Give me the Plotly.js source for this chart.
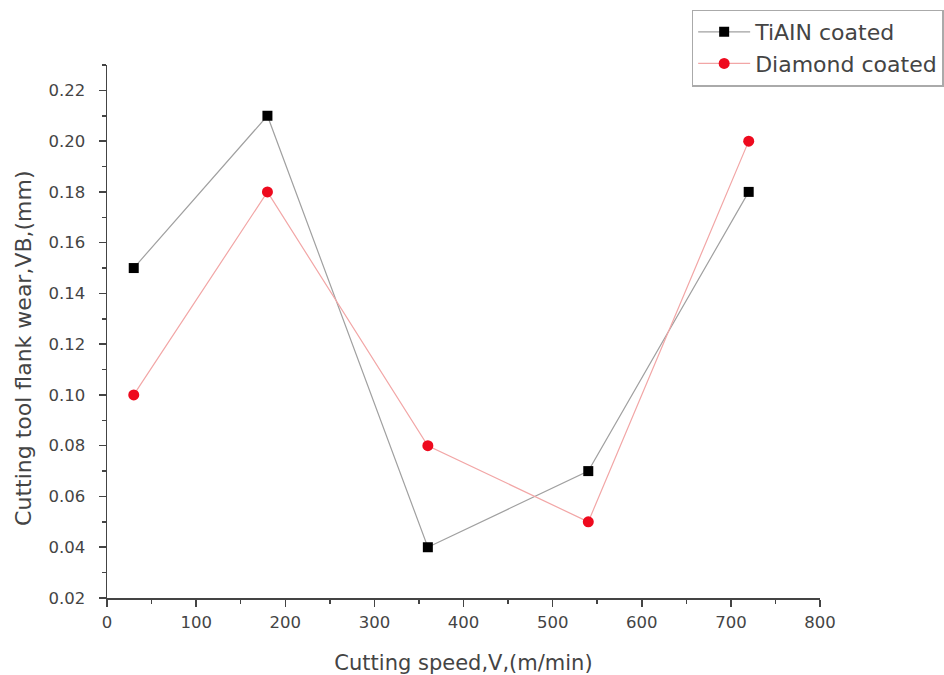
<!DOCTYPE html>
<html>
<head>
<meta charset="utf-8">
<script src="https://cdn.plot.ly/plotly-3.0.1.min.js"></script>
<style>html,body{margin:0;padding:0;background:#fff;}#chart{width:944px;height:675px;}</style>
</head>
<body>
<div id="chart"></div>
<script>
const speeds = [30, 180, 360, 540, 720];
const tialnWear = [0.15, 0.21, 0.04, 0.07, 0.18];
const diamondWear = [0.10, 0.18, 0.08, 0.05, 0.20];
const seriesNames = ["TiAIN coated", "Diamond coated"];
const xTitle = 'Cutting speed,V,(m/min)';
const yTitle = 'Cutting tool flank wear,VB,(mm)';

const traces = [
  {
    x: speeds, y: tialnWear, name: seriesNames[0], type: 'scatter', mode: 'lines+markers',
    line: {color: '#a0a0a0', width: 1.2},
    marker: {symbol: 'square', size: 10, color: '#000000'}
  },
  {
    x: speeds, y: diamondWear, name: seriesNames[1], type: 'scatter', mode: 'lines+markers',
    line: {color: '#f2a6a6', width: 1.2},
    marker: {symbol: 'circle', size: 11, color: '#ee0a1e'}
  }
];

const fam = 'DejaVu Sans, Verdana, sans-serif';
const axisFont = {family: fam, size: 16.5, color: '#444'};
const layout = {
  width: 944, height: 675,
  margin: {l: 107, r: 124, t: 65, b: 77, autoexpand: false},
  paper_bgcolor: '#fff', plot_bgcolor: '#fff',
  font: {family: fam, color: '#444'},
  showlegend: true,
  legend: {
    x: 0.82, y: 1.104, xanchor: 'left', yanchor: 'top',
    bgcolor: '#fff', bordercolor: '#aaa', borderwidth: 1.5,
    font: {family: fam, size: 22, color: '#444'},
    tracegroupgap: 0, itemwidth: 52
  },
  xaxis: {
    range: [0, 800], dtick: 100, tick0: 0, automargin: false,
    showgrid: false, zeroline: false, showline: true, linecolor: '#444', linewidth: 1.5,
    ticks: 'outside', ticklen: 7, tickwidth: 1.5, tickcolor: '#444',
    minor: {dtick: 50, ticks: 'outside', ticklen: 4, tickwidth: 1.5, tickcolor: '#444', showgrid: false},
    tickfont: axisFont, ticklabelstandoff: 2,
    title: {text: xTitle, font: {family: fam, size: 21, color: '#444'}, standoff: 24}
  },
  yaxis: {
    range: [0.02, 0.23], dtick: 0.02, tick0: 0.02, tickformat: '.2f', automargin: false,
    showgrid: false, zeroline: false, showline: true, linecolor: '#444', linewidth: 1.5,
    ticks: 'outside', ticklen: 7, tickwidth: 1.5, tickcolor: '#444',
    minor: {dtick: 0.01, ticks: 'outside', ticklen: 4, tickwidth: 1.5, tickcolor: '#444', showgrid: false},
    tickfont: axisFont, ticklabelstandoff: 10
  },
  annotations: [{
    text: yTitle, textangle: -90, showarrow: false,
    xref: 'paper', yref: 'paper', x: -0.118, y: 0.469, xanchor: 'center', yanchor: 'middle',
    font: {family: fam, size: 22, color: '#444'}
  }]
};

Plotly.newPlot('chart', traces, layout, {displayModeBar: false, staticPlot: true});
</script>
</body>
</html>
